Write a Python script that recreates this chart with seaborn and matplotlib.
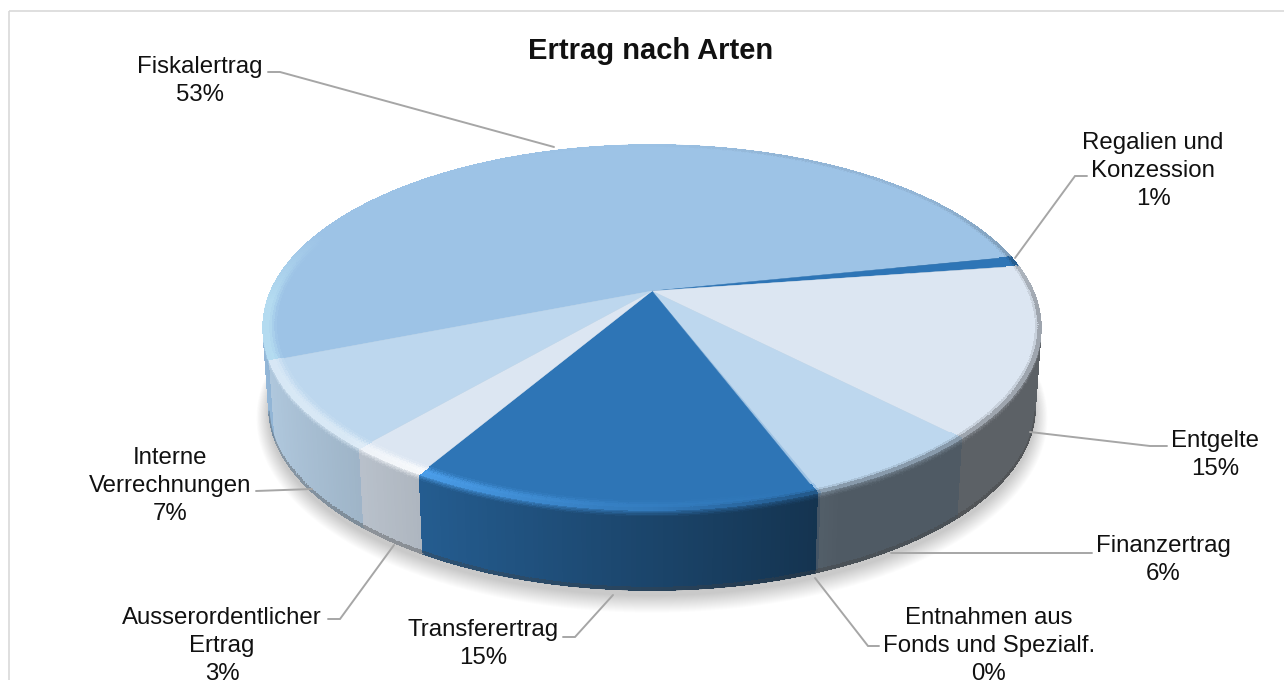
import numpy as np
import seaborn as sns
import matplotlib.pyplot as plt
from matplotlib.collections import LineCollection, PolyCollection
from matplotlib.patches import Rectangle

# --- Data ---
categories = ["Fiskalertrag", "Regalien und\nKonzession", "Entgelte", "Finanzertrag",
              "Entnahmen aus\nFonds und Spezialf.", "Transferertrag",
              "Ausserordentlicher\nErtrag", "Interne\nVerrechnungen"]
shares = [52.8, 0.9, 15.1, 6.4, 0.1, 14.15, 2.85, 7.7]
percents = [53, 1, 15, 6, 0, 15, 3, 7]
title = "Ertrag nach Arten"

# --- Style ---
sns.set_theme(style="white")
plt.rcParams['font.family'] = ['Liberation Sans', 'DejaVu Sans']
palette = sns.color_palette(["#9DC3E6", "#2E75B6", "#DCE6F2", "#BDD7EE",
                             "#9DC3E6", "#2E75B6", "#DCE6F2", "#BDD7EE"])
LINE = "#A6A6A6"
TEXT = "#111111"

# label centre and leader path for each slice, in pixels
label_xy = [(200, 81), (1153, 171), (1215, 455), (1163, 560),
            (989, 646), (483, 644), (222, 646), (170, 486)]
leaders = [[(268, 72), (280, 72), (554, 147)],
           [(1087, 176), (1075, 176), (1015, 258)],
           [(1030, 432), (1150, 446), (1167, 446)],
           [(891, 553), (1092, 553)],
           [(815, 578), (868, 646), (879, 646)],
           [(613, 595), (575, 637), (563, 637)],
           [(394, 545), (340, 619), (328, 619)],
           [(312, 489), (256, 491)]]

# pie geometry (perspective view of a disc)
CX, CY = 652, 291
RX, RY = 381, 175.2
PERSP = 0.2
DEPTH = 80
START = 248.3


def project(u, v, drop=0.0, xscale=1.0):
    d = 1 - PERSP * v
    return CX + xscale * RX * u / d, CY + drop + RY * v / d


def blend(a, b, t):
    return tuple(x + (y - x) * t for x, y in zip(a, b))


def arc(t0, t1):
    n = max(2, int(np.ceil((t1 - t0) / 0.6)))
    return np.radians(np.linspace(t0, t1, n))


def shade(u):
    return np.interp(u, [-1, -0.5, 0.4, 1], [0.95, 0.79, 0.42, 0.42])


def highlight(u, v):
    h = np.interp(u, [-1, -0.7, -0.5, -0.1, 0.3], [0.4, 0.45, 0.85, 0.25, 0.0])
    return h * np.interp(v, [-0.35, 0.05], [0.0, 1.0])


def darkening(u, v):
    d = np.interp(u, [-1, 0.0, 0.4], [0.0, 0.1, 0.65])
    return d * np.interp(v, [-0.6, 0.1], [0.25, 1.0])


def lifted(c):
    return tuple(min(1.0, x * 1.2 + 0.1) for x in c)


def quad(a, b, r0, r1, z0=0.0, z1=0.0):
    # one small cell between two angles, radii and wall heights
    xa0, ya0 = project(r0 * np.sin(a), -r0 * np.cos(a), z0 * DEPTH, 1 - 0.015 * z0)
    xb0, yb0 = project(r0 * np.sin(b), -r0 * np.cos(b), z0 * DEPTH, 1 - 0.015 * z0)
    xa1, ya1 = project(r1 * np.sin(a), -r1 * np.cos(a), z1 * DEPTH, 1 - 0.015 * z1)
    xb1, yb1 = project(r1 * np.sin(b), -r1 * np.cos(b), z1 * DEPTH, 1 - 0.015 * z1)
    return [(xa0, ya0), (xb0, yb0), (xb1, yb1), (xa1, ya1)]


fig, ax = plt.subplots(figsize=(12.84, 6.8), dpi=100)
fig.subplots_adjust(0, 0, 1, 1)
ax.set_xlim(0, 1284)
ax.set_ylim(680, 0)
ax.axis("off")
ax.add_patch(Rectangle((9, 11), 1400, 690, fill=False, ec="#D9D9D9", lw=1.2, zorder=0))

# soft shadow under the disc, mostly towards the front
th = np.radians(np.linspace(0, 360, 361))
for s in np.linspace(1.06, 1.0, 18):
    x, y = project((1 + (s - 1) * 0.5) * np.sin(th), -s * np.cos(th), DEPTH + 6, 0.985)
    ax.fill(x, y, color="black", alpha=0.012, lw=0, zorder=1)

edges = np.concatenate([[0], np.cumsum(shares)]) / sum(shares) * 360 + START
z_bands = np.concatenate([np.linspace(0, 0.09, 6), np.linspace(0.13, 0.97, 6), [1.0]])
r_bands = np.linspace(0.968, 1.0, 6)

wall_cells, top_polys, top_cols, rim_polys, rim_cols = [], [], [], [], []
edge_segs, edge_cols = [], []

for i in range(len(shares)):
    c = palette[i]
    t = arc(edges[i], edges[i + 1])
    # flat part of the top face
    x, y = project(0.97 * np.sin(t), -0.97 * np.cos(t))
    top_polys.append(np.column_stack([np.r_[CX, x], np.r_[CY, y]]))
    top_cols.append(c)
    for a, b in zip(t[:-1], t[1:]):
        um, vm = np.sin((a + b) / 2), -np.cos((a + b) / 2)
        wall = blend((0, 0, 0), c, shade(um))
        peak = blend(c, lifted(c), highlight(um, vm))
        dark = darkening(um, vm)
        # bevel on the top face
        for k, (r0, r1) in enumerate(zip(r_bands[:-1], r_bands[1:])):
            p = (k + 0.5) / (len(r_bands) - 1)
            if p < 0.6:
                col = blend(c, peak, p / 0.6)
            else:
                col = blend(peak, wall, (p - 0.6) / 0.4 * dark)
            rim_polys.append(quad(a, b, r0, r1))
            rim_cols.append(col)
        # smooth outer edges against the background
        if vm < 0.12:
            cell = quad(a, b, 1, 1)
            edge_segs.append([cell[0], cell[1]])
            edge_cols.append(col)
        # side wall
        for z0, z1 in zip(z_bands[:-1], z_bands[1:]):
            zm = (z0 + z1) / 2
            if zm < 0.09:
                col = blend(blend(peak, wall, dark), wall, zm / 0.09)
            elif zm > 0.97:
                col = blend(wall, (0.25, 0.25, 0.25), 0.35)
            else:
                col = wall
            wall_cells.append((vm, quad(a, b, 1, 1, z0, z1), col))
        if vm > 0.22:
            cell = quad(a, b, 1, 1, 1.0, 1.0)
            edge_segs.append([cell[0], cell[1]])
            edge_cols.append(blend(wall, (0.25, 0.25, 0.25), 0.35))

# back of the wall first, so the front stays on top
wall_cells.sort(key=lambda cell: cell[0])
wall_polys = [cell[1] for cell in wall_cells]
wall_cols = [cell[2] for cell in wall_cells]

ax.add_collection(PolyCollection(wall_polys, facecolors=wall_cols, edgecolors=wall_cols,
                                 linewidths=0.5, antialiaseds=False, zorder=2))
ax.add_collection(PolyCollection(top_polys, facecolors=top_cols, edgecolors=top_cols, linewidths=0.3, zorder=3))
ax.add_collection(PolyCollection(rim_polys, facecolors=rim_cols, edgecolors=rim_cols,
                                 linewidths=0.5, antialiaseds=False, zorder=4))
ax.add_collection(LineCollection(edge_segs, colors=edge_cols, linewidths=0.9, capstyle="round", zorder=4))

# leader lines and labels
for path in leaders:
    xs, ys = zip(*path)
    ax.plot(xs, ys, color=LINE, lw=1.4, solid_joinstyle="miter", zorder=5)

for name, val, (lx, ly) in zip(categories, percents, label_xy):
    ax.text(lx, ly, f"{name}\n{val}%", ha="center", va="center", fontsize=17.3,
            color=TEXT, linespacing=1.34, zorder=6)

ax.text(651, 51, title, ha="center", va="center", fontsize=21, fontweight="bold", color=TEXT, zorder=6)

plt.savefig("out.png", dpi=100)
plt.close()
